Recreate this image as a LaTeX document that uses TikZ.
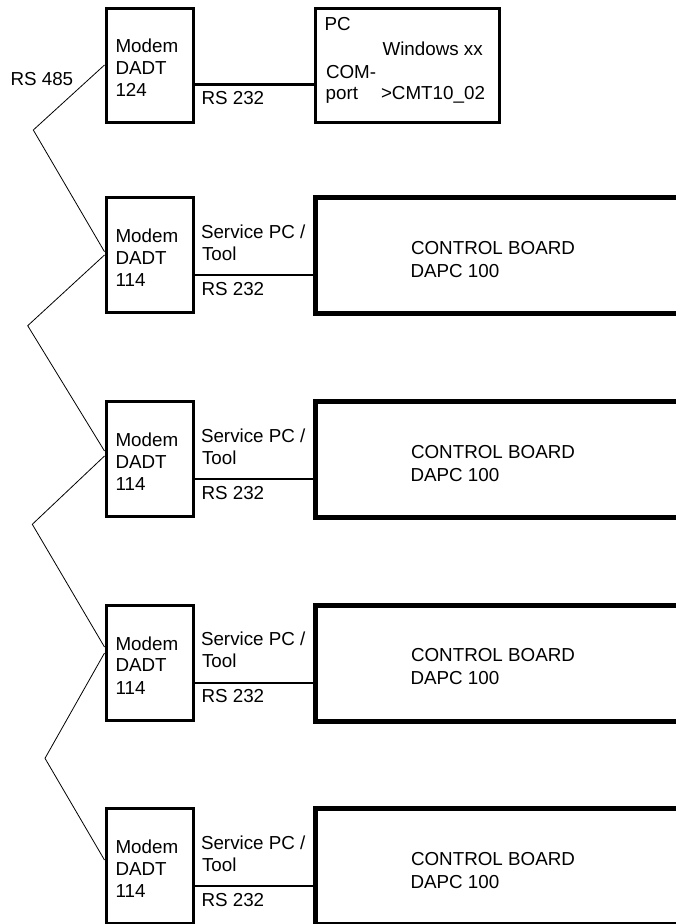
\documentclass[tikz,border=0pt]{standalone}
\usepackage{fontspec}
\setmainfont{Liberation Sans}
\begin{document}
\begin{tikzpicture}[x=1pt,y=-1pt,
  txt/.style={anchor=base west,inner sep=0pt,outer sep=0pt,font=\fontsize{18.8}{22}\selectfont},
  modembox/.style={draw,line width=3pt,minimum width=87pt,minimum height=115pt,inner sep=0pt},
  pcbox/.style={draw,line width=3pt,minimum width=184pt,minimum height=114pt,inner sep=0pt},
  boardbox/.style={draw,line width=5pt,minimum width=404pt,minimum height=116pt,inner sep=0pt},
  linkA/.style={line width=2.8pt},
  linkB/.style={line width=2.2pt},
  bus/.style={line width=0.8pt}]
\useasboundingbox (0,0) rectangle (676,924);
\clip (0,0) rectangle (676,924);

% ---- row 1: Modem DADT 124 and PC
\node[modembox,minimum height=114pt] (m1) at (149.5,65) {};
\node[txt] (m1a) at (115.5,52.5) {Modem};
\node[txt] (m1b) at (115.5,74) {DADT};
\node[txt] (m1c) at (115.5,96.5) {124};
\node[pcbox] (pc) at (407.2,65) {};
\node[txt] (pca) at (324.5,30) {PC};
\node[txt] (pcb) at (382.5,55) {Windows xx};
\node[txt] (pcc) at (326,78) {COM-};
\node[txt] (pcd) at (325.7,99) {port};
\node[txt] (pce) at (381,99) {>CMT10\_02};
\coordinate (c1) at (0,84.3);
\draw[linkA] (m1.east |- c1) -- (pc.west |- c1);
\node[txt] (r1) at (201.5,104) {RS 232};
\node[txt] (rs485) at (10.5,85) {RS 485};

% ---- rows 2..5: Modem DADT 114 and control boards
\foreach \i/\T in {2/197.5,3/401.5,4/605,5/808.5}{
  \node[modembox] (m\i) at (149.5,\T+57.5) {};
  \node[txt] (m\i a) at (115.5,\T+45.3) {Modem};
  \node[txt] (m\i b) at (115.5,\T+66.5) {DADT};
  \node[txt] (m\i c) at (115.5,\T+89.3) {114};
  \node[boardbox] (cb\i) at (517.5,\T+58) {};
  \node[txt] (cb\i a) at (411,\T+56.5) {CONTROL BOARD};
  \node[txt] (cb\i b) at (410.5,\T+79.5) {DAPC 100};
  \coordinate (c\i) at (0,\T+77.7);
  \draw[linkB] (m\i.east |- c\i) -- (cb\i.west |- c\i);
  \node[txt] (s\i a) at (201,\T+40.5) {Service PC /};
  \node[txt] (s\i b) at (202,\T+62.5) {Tool};
  \node[txt] (s\i c) at (201.5,\T+97.5) {RS 232};
}

% ---- RS 485 bus zigzag
\coordinate (v1) at (33.3,130);
\coordinate (v2) at (27.7,325.7);
\coordinate (v3) at (32.3,524.3);
\coordinate (v4) at (45,758.3);
\draw[bus] (m1.west) -- (v1) -- ([yshift=3.3pt]m2.west);
\draw[bus] (m2.west) -- (v2) -- ([yshift=8pt]m3.west);
\draw[bus] ([yshift=3pt]m3.west) -- (v3) -- ([yshift=15.5pt]m4.west);
\draw[bus] ([yshift=9.5pt]m4.west) -- (v4) -- ([yshift=6pt]m5.west);
\end{tikzpicture}
\end{document}
